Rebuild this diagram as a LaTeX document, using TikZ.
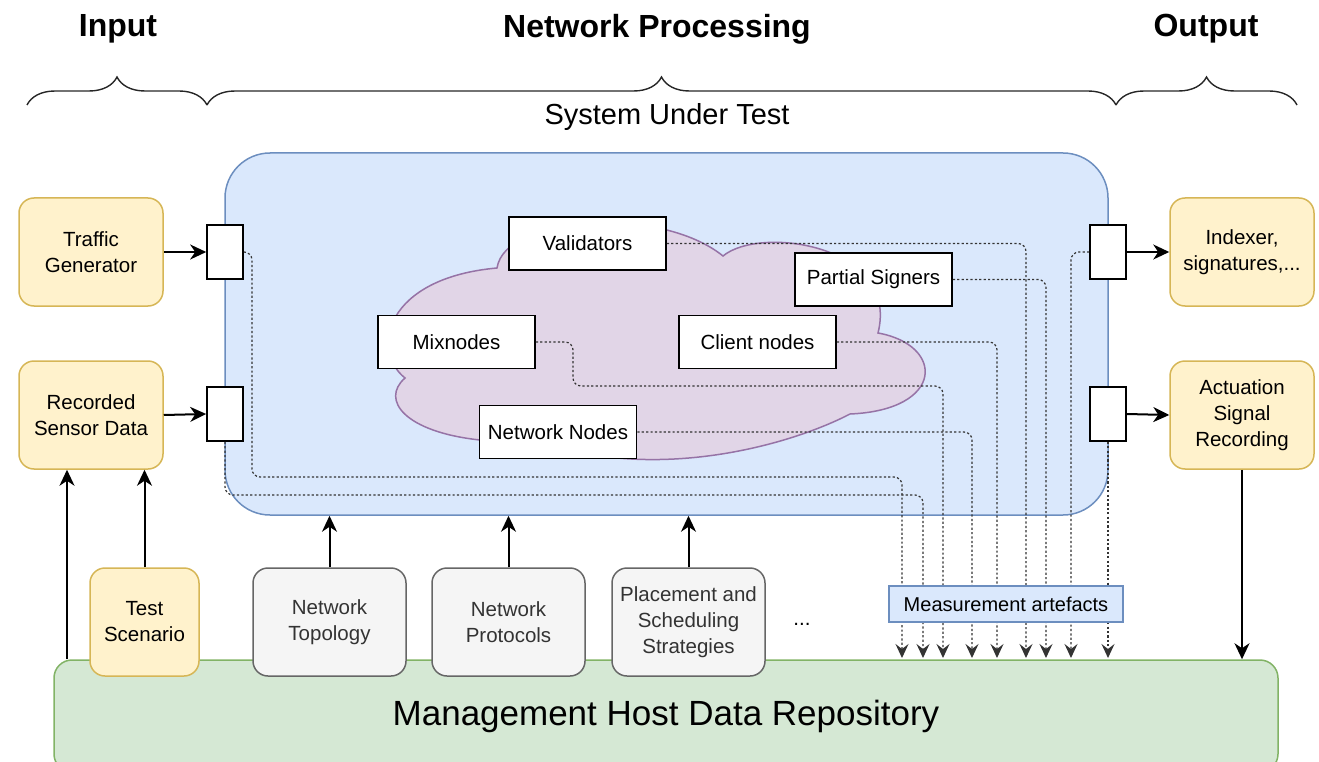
\documentclass[tikz,border=0pt]{standalone}
\usepackage{fontspec}
\setmainfont{Liberation Sans}
\usetikzlibrary{arrows.meta,decorations.pathreplacing}

\definecolor{sutfill}{HTML}{DAE8FC}
\definecolor{sutline}{HTML}{6C8EBF}
\definecolor{cloudfill}{HTML}{E1D5E7}
\definecolor{cloudline}{HTML}{9673A6}
\definecolor{iofill}{HTML}{FFF2CC}
\definecolor{ioline}{HTML}{D6B656}
\definecolor{cfgfill}{HTML}{F5F5F5}
\definecolor{cfgline}{HTML}{666666}
\definecolor{repofill}{HTML}{D5E8D4}
\definecolor{repoline}{HTML}{82B366}

\tikzset{
  boxfont/.style={font=\fontsize{20.5}{26}\selectfont},
  iobox/.style={draw=ioline,fill=iofill,rounded corners=15pt,line width=1.5pt,
    minimum width=144pt,minimum height=108pt,align=center,boxfont},
  cfgbox/.style={draw=cfgline,fill=cfgfill,rounded corners=15pt,line width=1.5pt,
    minimum width=153pt,minimum height=108pt,align=center,text=black!80,boxfont},
  member/.style={draw,fill=white,line width=1.6pt,minimum width=157pt,
    minimum height=53pt,boxfont},
  port/.style={draw,fill=white,line width=1.6pt,minimum width=36pt,
    minimum height=54pt,inner sep=0pt},
  title/.style={font=\fontsize{32}{38}\selectfont\bfseries},
  bracket/.style={decorate,decoration={brace,amplitude=28pt},line width=1.4pt,black!85},
  flow/.style={line width=2pt,-{Stealth[length=16pt,width=15pt,inset=5pt]}},
  probe/.style={line width=1.2pt,black!80,dash pattern=on 2.2pt off 2.2pt,rounded corners=8pt,
    -{Stealth[length=14pt,width=13pt,inset=5pt]}},
}

\begin{document}
\begin{tikzpicture}[x=1pt,y=-1pt]
	\useasboundingbox (0,0) rectangle (1319,762);

	% headings and brackets
	\node[title] (hin) at (118,29) {Input};
	\node[title] (hnet) at (657,29) {Network Processing};
	\node[title] (hout) at (1206,29) {Output};
	\draw[bracket] (27,105) -- (207,105);
	\draw[bracket] (207,105) -- (1116,105);
	\draw[bracket] (1116,105) -- (1297,105);
	\node[font=\fontsize{29}{34}\selectfont] (sutlabel) at (667,117) {System Under Test};

	% system under test
	\node[draw=sutline,fill=sutfill,line width=1.5pt,rounded corners=45pt,
		minimum width=883pt,minimum height=362pt] (sut) at (666.5,334) {};

	% cloud of nodes
	\draw[draw=cloudline,fill=cloudfill,line width=1.5pt] (480,440)
		.. controls (405,432) and (380,400) .. (405,378)
		.. controls (370,350) and (385,278) .. (497,268)
		.. controls (505,215) and (660,205) .. (723,256)
		.. controls (760,225) and (900,245) .. (878,333)
		.. controls (945,345) and (945,410) .. (850,414)
		.. controls (800,440) and (700,470) .. (600,456)
		.. controls (560,452) and (510,447) .. (480,440) -- cycle;

	% repository
	\node[draw=repoline,fill=repofill,line width=1.5pt,rounded corners=18pt,
		minimum width=1224pt,minimum height=112pt,
		font=\fontsize{35}{40}\selectfont] (repo) at (666,716) {Management Host Data Repository};

	% sinks of the measurement lines
	\coordinate (skA) at (902,658);
	\coordinate (skB) at (923,658);
	\coordinate (skC) at (943,658);
	\coordinate (skD) at (972,658);
	\coordinate (skE) at (997,658);
	\coordinate (skF) at (1026,658);
	\coordinate (skG) at (1046,658);
	\coordinate (skH) at (1071,658);
	\coordinate (skI) at (1108,658);

	% members and ports
	\node[member] (val) at (587.5,243.5) {Validators};
	\node[member] (psig) at (873.5,279.5) {Partial Signers};
	\node[member] (mix) at (456.5,342) {Mixnodes};
	\node[member] (cli) at (757.5,342) {Client nodes};
	\node[member] (nn) at (558,432) {Network Nodes};
	\node[port] (pin1) at (225,252) {};
	\node[port] (pin2) at (225,414) {};
	\node[port] (pout1) at (1108,252) {};
	\node[port] (pout2) at (1108,414) {};

	% measurement lines
	\draw[probe] (pin1.east) -| (252,477) -| (skA);
	\draw[probe] (pin2.south) |- (923,495) -- (skB);
	\draw[probe] (mix.east) -| (573,386) -| (skC);
	\draw[probe] (nn.east) -| (skD);
	\draw[probe] (cli.east) -| (skE);
	\draw[probe] (val.east) -| (skF);
	\draw[probe] (psig.east) -| (skG);
	\draw[probe] (pout1.west) -| (skH);
	\draw[probe] (pout2.south) -- (skI);
	\node[draw=sutline,fill=sutfill,line width=1.5pt,minimum width=234pt,minimum height=36pt,
		font=\fontsize{20}{24}\selectfont] (meas) at (1006,604) {Measurement artefacts};

	% inputs and outputs
	\node[iobox] (tg) at (91,252) {Traffic\\Generator};
	\node[iobox] (rec) at (91,415) {Recorded\\Sensor Data};
	\node[iobox] (idx) at (1242,252) {Indexer,\\signatures,...};
	\node[iobox] (act) at (1242,415) {Actuation\\Signal\\Recording};
	\node[iobox,minimum width=109pt] (tst) at (144.5,622) {Test\\Scenario};

	% configuration
	\node[cfgbox] (topo) at (329.5,622) {Network\\Topology};
	\node[cfgbox] (prot) at (508.5,622) {Network\\Protocols};
	\node[cfgbox] (plc) at (688.5,622) {Placement and\\Scheduling\\Strategies};
	\node[boxfont] (more) at (802,624) {...};

	% arrows
	\draw[flow] (tg.east) -- (pin1.west);
	\draw[flow] (rec.east) -- (pin2.west);
	\draw[flow] (pout1.east) -- (idx.west);
	\draw[flow] (pout2.east) -- (act.west);
	\draw[flow] (act.south) -- (act.south |- repo.north);
	\draw[flow] ([xshift=-24pt]rec.south |- repo.north) -- ([xshift=-24pt]rec.south);
	\draw[flow] (tst.north) -- (tst.north |- rec.south);
	\draw[flow] (topo.north) -- (topo.north |- sut.south);
	\draw[flow] (prot.north) -- (prot.north |- sut.south);
	\draw[flow] (plc.north) -- (plc.north |- sut.south);
\end{tikzpicture}
\end{document}
